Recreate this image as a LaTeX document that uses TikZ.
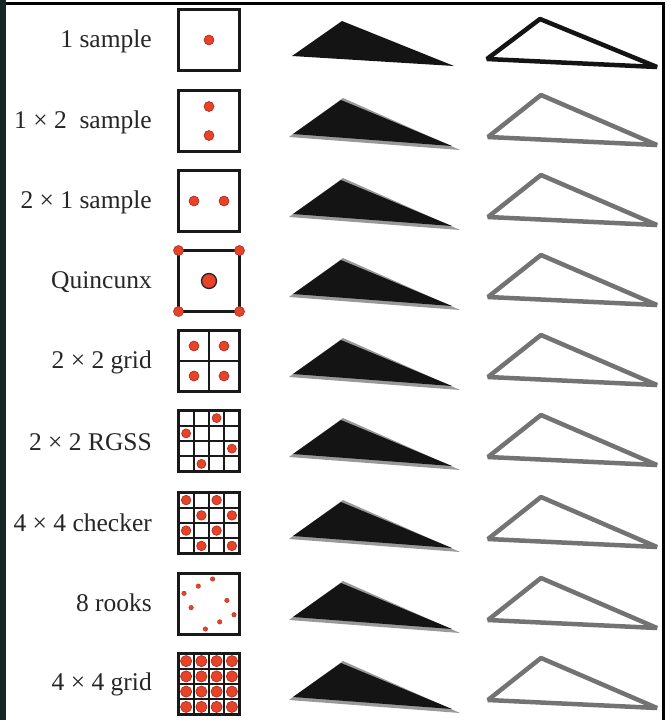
\documentclass[tikz,border=0pt]{standalone}
\usepackage{fontspec}
\setmainfont{Liberation Serif}
\usepackage{tikz}
\definecolor{smpred}{RGB}{232,66,40}
\definecolor{smpedge}{RGB}{160,45,30}
\definecolor{frameleft}{RGB}{24,38,36}
\tikzset{
  lbl/.style={anchor=east,inner sep=0pt,text=black!85,font=\fontsize{25.5}{30}\selectfont},
  pixbox/.style={draw=black!90,line width=3.5pt},
  pixgrid/.style={draw=black!90,line width=2.2pt},
  smp/.style={fill=smpred,draw=smpedge,line width=0.6pt},
  tri/.style={fill=black!92},
  trishade/.style={fill=black!40},
  edge/.style={draw=black!92,line width=4.5pt,line join=bevel},
  edgegray/.style={draw=black!55,line width=4.5pt,line join=bevel}
}
\begin{document}
\begin{tikzpicture}[x=1pt,y=-1pt]
\useasboundingbox (0,0) rectangle (671,720);
\fill [white] (0,0) rectangle (671,720);
% labels
\node [lbl] (l1) at (152,41) {1 sample};
\node [lbl] (l2) at (152,122) {1 × 2\ \ sample};
\node [lbl] (l3) at (152,202) {2 × 1 sample};
\node [lbl] (l4) at (152,282) {Quincunx};
\node [lbl] (l5) at (152,362) {2 × 2 grid};
\node [lbl] (l6) at (152,442) {2 × 2 RGSS};
\node [lbl] (l7) at (152,523) {4 × 4 checker};
\node [lbl] (l8) at (152,603) {8 rooks};
\node [lbl] (l9) at (152,684) {4 × 4 grid};
% 1 sample
\draw [pixbox] (178.5,9.5) rectangle (239.5,70.5);
\draw [smp] (209,40) circle (5pt);
% 1 x 2
\draw [pixbox] (178.5,90.5) rectangle (239.5,151.5);
\draw [smp] (209,106.5) circle (5pt);
\draw [smp] (209,135.5) circle (5pt);
% 2 x 1
\draw [pixbox] (178.5,170.5) rectangle (239.5,231.5);
\draw [smp] (194,201) circle (5pt);
\draw [smp] (224,201) circle (5pt);
% quincunx
\draw [pixbox] (178.5,250.5) rectangle (239.5,311.5);
\draw [smp] (178.5,250.5) circle (5pt);
\draw [smp] (239.5,250.5) circle (5pt);
\draw [smp] (178.5,311.5) circle (5pt);
\draw [smp] (239.5,311.5) circle (5pt);
\draw [smp,draw=black!85,line width=1.3pt] (209,281) circle (7.5pt);
% 2 x 2 grid
\draw [pixgrid] (209,330.5) -- (209,391.5);
\draw [pixgrid] (178.5,361) -- (239.5,361);
\draw [pixbox] (178.5,330.5) rectangle (239.5,391.5);
\draw [smp] (194,346) circle (5pt);
\draw [smp] (224,346) circle (5pt);
\draw [smp] (194,376) circle (5pt);
\draw [smp] (224,376) circle (5pt);
% 2 x 2 RGSS
\draw [pixgrid] (193.75,410.5) -- (193.75,471.5);
\draw [pixgrid] (209,410.5) -- (209,471.5);
\draw [pixgrid] (224.25,410.5) -- (224.25,471.5);
\draw [pixgrid] (178.5,425.75) -- (239.5,425.75);
\draw [pixgrid] (178.5,441) -- (239.5,441);
\draw [pixgrid] (178.5,456.25) -- (239.5,456.25);
\draw [pixbox] (178.5,410.5) rectangle (239.5,471.5);
\draw [smp] (216.6,418.1) circle (4.5pt);
\draw [smp] (186.1,433.4) circle (4.5pt);
\draw [smp] (231.9,448.6) circle (4.5pt);
\draw [smp] (201.4,463.9) circle (4.5pt);
% 4 x 4 checker
\draw [pixgrid] (193.75,492.5) -- (193.75,553.5);
\draw [pixgrid] (209,492.5) -- (209,553.5);
\draw [pixgrid] (224.25,492.5) -- (224.25,553.5);
\draw [pixgrid] (178.5,507.75) -- (239.5,507.75);
\draw [pixgrid] (178.5,523) -- (239.5,523);
\draw [pixgrid] (178.5,538.25) -- (239.5,538.25);
\draw [pixbox] (178.5,492.5) rectangle (239.5,553.5);
\draw [smp] (186.1,500.1) circle (4.8pt);
\draw [smp] (216.6,500.1) circle (4.8pt);
\draw [smp] (201.4,515.4) circle (4.8pt);
\draw [smp] (231.9,515.4) circle (4.8pt);
\draw [smp] (186.1,530.6) circle (4.8pt);
\draw [smp] (216.6,530.6) circle (4.8pt);
\draw [smp] (201.4,545.9) circle (4.8pt);
\draw [smp] (231.9,545.9) circle (4.8pt);
% 8 rooks
\draw [pixbox] (178.5,573.5) rectangle (239.5,634.5);
\draw [smp,line width=0.3pt] (212.6,579) circle (2.3pt);
\draw [smp,line width=0.3pt] (198.3,586.1) circle (2.3pt);
\draw [smp,line width=0.3pt] (184,593.3) circle (2.3pt);
\draw [smp,line width=0.3pt] (226.9,600.4) circle (2.3pt);
\draw [smp,line width=0.3pt] (191.1,607.6) circle (2.3pt);
\draw [smp,line width=0.3pt] (234,614.7) circle (2.3pt);
\draw [smp,line width=0.3pt] (219.7,621.9) circle (2.3pt);
\draw [smp,line width=0.3pt] (205.4,629) circle (2.3pt);
% 4 x 4 grid
\draw [pixgrid] (193.75,653.5) -- (193.75,714.5);
\draw [pixgrid] (209,653.5) -- (209,714.5);
\draw [pixgrid] (224.25,653.5) -- (224.25,714.5);
\draw [pixgrid] (178.5,668.75) -- (239.5,668.75);
\draw [pixgrid] (178.5,684) -- (239.5,684);
\draw [pixgrid] (178.5,699.25) -- (239.5,699.25);
\draw [pixbox] (178.5,653.5) rectangle (239.5,714.5);
\draw [smp] (186.1,661.1) circle (5.6pt);
\draw [smp] (201.4,661.1) circle (5.6pt);
\draw [smp] (216.6,661.1) circle (5.6pt);
\draw [smp] (231.9,661.1) circle (5.6pt);
\draw [smp] (186.1,676.4) circle (5.6pt);
\draw [smp] (201.4,676.4) circle (5.6pt);
\draw [smp] (216.6,676.4) circle (5.6pt);
\draw [smp] (231.9,676.4) circle (5.6pt);
\draw [smp] (186.1,691.6) circle (5.6pt);
\draw [smp] (201.4,691.6) circle (5.6pt);
\draw [smp] (216.6,691.6) circle (5.6pt);
\draw [smp] (231.9,691.6) circle (5.6pt);
\draw [smp] (186.1,706.9) circle (5.6pt);
\draw [smp] (201.4,706.9) circle (5.6pt);
\draw [smp] (216.6,706.9) circle (5.6pt);
\draw [smp] (231.9,706.9) circle (5.6pt);
% filled triangles
\fill [tri] (292,56) -- (342,21) -- (454,66) -- cycle;
\fill [trishade] (289,137) -- (343,98) -- (460,150) -- cycle;
\fill [tri] (293,134) -- (341,100) -- (452,146) -- cycle;
\fill [trishade] (289,217) -- (343,178) -- (460,230) -- cycle;
\fill [tri] (293,214) -- (341,180) -- (452,226) -- cycle;
\fill [trishade] (289,297) -- (343,258) -- (460,310) -- cycle;
\fill [tri] (293,294) -- (341,260) -- (452,306) -- cycle;
\fill [trishade] (289,377) -- (343,338) -- (460,390) -- cycle;
\fill [tri] (293,374) -- (341,340) -- (452,386) -- cycle;
\fill [trishade] (289,457) -- (343,418) -- (460,470) -- cycle;
\fill [tri] (293,454) -- (341,420) -- (452,466) -- cycle;
\fill [trishade] (289,539) -- (343,500) -- (460,552) -- cycle;
\fill [tri] (293,536) -- (341,502) -- (452,548) -- cycle;
\fill [trishade] (289,620) -- (343,581) -- (460,633) -- cycle;
\fill [tri] (293,617) -- (341,583) -- (452,629) -- cycle;
\fill [trishade] (289,700) -- (343,661) -- (460,713) -- cycle;
\fill [tri] (293,697) -- (341,663) -- (452,709) -- cycle;
% outlined triangles
\draw [edge] (487,59) -- (540,19) -- (657,67) -- cycle;
\draw [edgegray] (488,137) -- (541,95) -- (657,145) -- cycle;
\draw [edgegray] (488,217) -- (541,175) -- (657,225) -- cycle;
\draw [edgegray] (488,297) -- (541,255) -- (657,305) -- cycle;
\draw [edgegray] (488,377) -- (541,335) -- (657,385) -- cycle;
\draw [edgegray] (488,457) -- (541,415) -- (657,465) -- cycle;
\draw [edgegray] (488,539) -- (541,497) -- (657,547) -- cycle;
\draw [edgegray] (488,620) -- (541,578) -- (657,628) -- cycle;
\draw [edgegray] (488,700) -- (541,658) -- (657,708) -- cycle;
% frame
\fill [frameleft] (0,0) rectangle (6,720);
\draw [black,line width=3pt] (6,3) -- (665,3);
\draw [black,line width=3pt] (663.5,3) -- (663.5,720);
\end{tikzpicture}
\end{document}
